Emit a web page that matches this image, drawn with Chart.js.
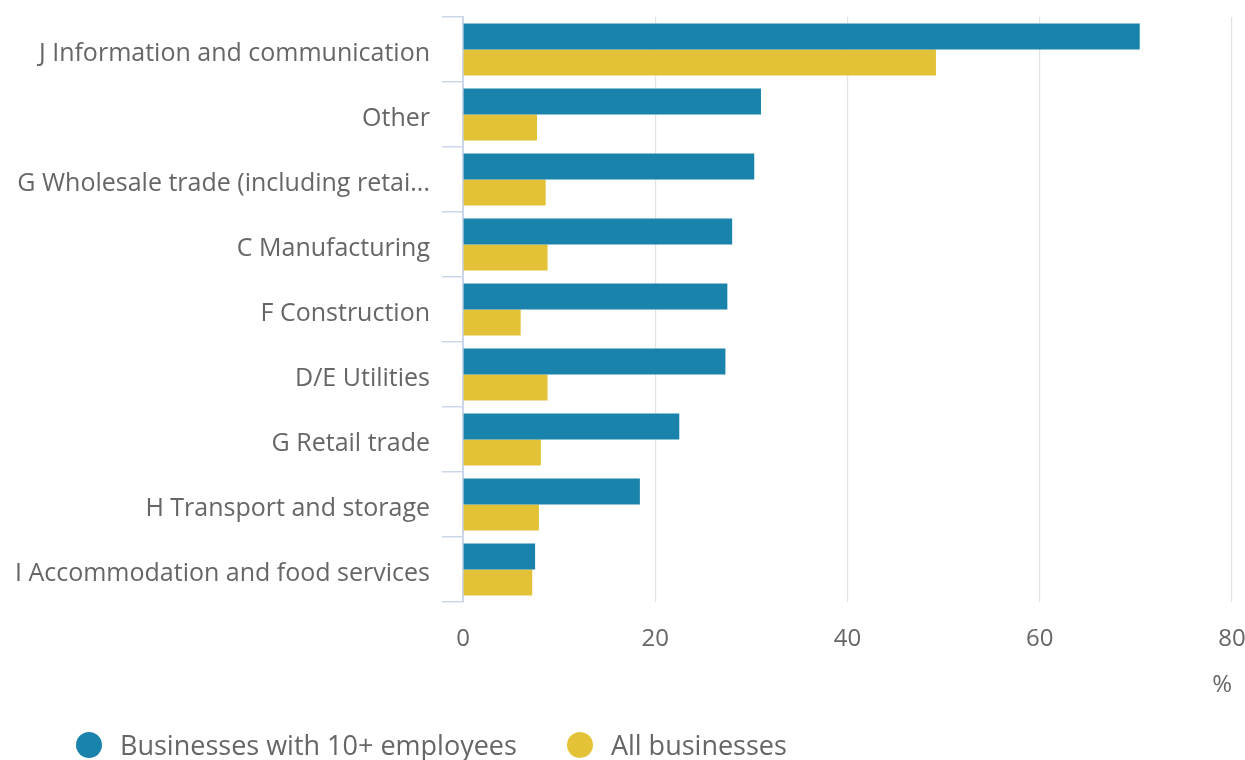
<!DOCTYPE html>
<html>
<head>
<meta charset="utf-8">
<script src="https://cdn.jsdelivr.net/npm/chart.js@4.4.1/dist/chart.umd.min.js"></script>
<style>
    html, body { margin: 0; padding: 0; background: #ffffff; }
    #wrap { position: relative; width: 1245px; height: 760px; }
    #legend {
        position: absolute; left: 76px; top: 726px;
        display: flex; align-items: center;
        font-family: 'Open Sans', sans-serif; font-size: 27px; color: #666666;
    }
    .item { display: flex; align-items: center; margin-right: 50px; }
    .dot { width: 26px; height: 26px; border-radius: 50%; margin-right: 18px; }
</style>
</head>
<body>
<div id="wrap">
    <canvas id="chart" width="1245" height="760"></canvas>
    <div id="legend"></div>
</div>
<script>
// Share of businesses by industry (%)
const categories = [
    'J Information and communication',
    'Other',
    'G Wholesale trade (including retai...',
    'C Manufacturing',
    'F Construction',
    'D/E Utilities',
    'G Retail trade',
    'H Transport and storage',
    'I Accommodation and food services'
];
const seriesNames = ['Businesses with 10+ employees', 'All businesses'];
const tenPlus = [70.4, 31.0, 30.3, 28.0, 27.5, 27.3, 22.5, 18.4, 7.5];
const allBusinesses = [49.2, 7.7, 8.6, 8.8, 6.0, 8.8, 8.1, 7.9, 7.2];
const xTicks = [0, 20, 40, 60, 80];

const colors = ['#1a83ab', '#e3c238'];

Chart.defaults.font.family = "'Open Sans', sans-serif";
Chart.defaults.color = '#666666';

const chart = new Chart(document.getElementById('chart'), {
    type: 'bar',
    data: {
        labels: categories,
        datasets: [
            { label: seriesNames[0], data: tenPlus, backgroundColor: colors[0] },
            { label: seriesNames[1], data: allBusinesses, backgroundColor: colors[1] }
        ]
    },
    options: {
        indexAxis: 'y',
        responsive: false,
        animation: false,
        categoryPercentage: 0.8,
        barPercentage: 1.0,
        layout: {
            padding: { top: 17, bottom: 63, left: 0, right: 0 }
        },
        plugins: {
            legend: { display: false },
            tooltip: { enabled: false }
        },
        scales: {
            x: {
                min: 0,
                max: 80,
                afterBuildTicks: (scale) => {
                    scale.ticks = xTicks.map(v => ({ value: v }));
                },
                afterFit: (scale) => {
                    scale.height = 95;
                    scale.paddingLeft = 0;
                    scale.paddingRight = 13;
                },
                grid: {
                    color: '#e2e2e2',
                    lineWidth: 1.2,
                    drawTicks: false
                },
                border: { display: false },
                ticks: {
                    padding: 23,
                    font: { size: 24 },
                    color: '#666666'
                },
                title: {
                    display: true,
                    text: '%',
                    align: 'end',
                    font: { size: 24 },
                    color: '#666666',
                    padding: { top: 22, bottom: -3 }
                }
            },
            y: {
                afterFit: (scale) => {
                    scale.width = 463;
                    scale.paddingTop = 0;
                    scale.paddingBottom = 0;
                },
                grid: {
                    drawOnChartArea: false,
                    color: '#ccd6eb',
                    lineWidth: 1.5,
                    tickLength: 21
                },
                border: { color: '#ccd6eb', width: 2 },
                ticks: {
                    padding: 12,
                    labelOffset: 4,
                    font: { size: 25 },
                    color: '#666666'
                }
            }
        }
    }
});

// HTML legend built from the chart datasets
const legendEl = document.getElementById('legend');
chart.data.datasets.forEach(ds => {
    const item = document.createElement('div');
    item.className = 'item';
    const dot = document.createElement('span');
    dot.className = 'dot';
    dot.style.background = ds.backgroundColor;
    const text = document.createElement('span');
    text.textContent = ds.label;
    item.appendChild(dot);
    item.appendChild(text);
    legendEl.appendChild(item);
});
</script>
</body>
</html>
